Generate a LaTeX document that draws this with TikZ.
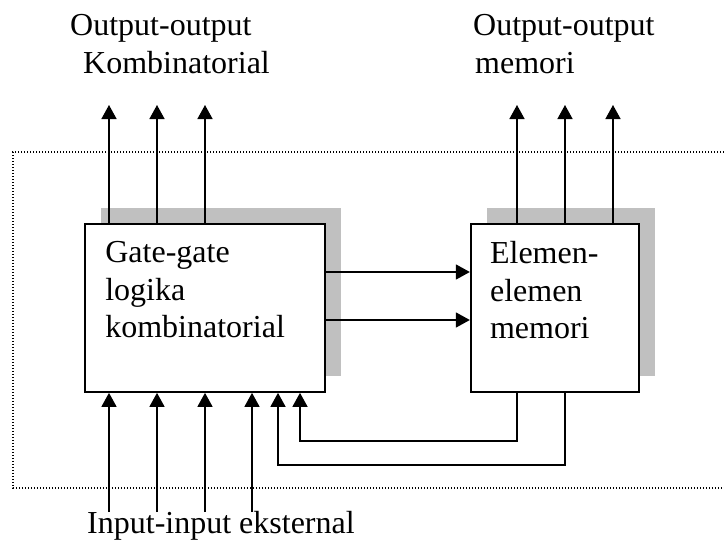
\documentclass[tikz,border=0pt]{standalone}
\usepackage{fontspec}
\setmainfont{Liberation Serif}
\usepackage{tikz}
\usetikzlibrary{arrows.meta,positioning,calc,shadows}
\definecolor{ShadowGray}{RGB}{192,192,192}
\tikzset{
  blok/.style={draw=black,line width=1.7pt,fill=white,inner sep=0pt,
               minimum height=168pt,
               drop shadow={shadow xshift=16pt,shadow yshift=16pt,
                            fill=ShadowGray,opacity=1}},
  isi/.style={anchor=north west,inner sep=0pt,align=left,
              font=\fontsize{32}{37.5}\selectfont},
  lbl/.style={anchor=base west,inner sep=0pt,font=\fontsize{32}{38}\selectfont},
  sig/.style={-{Triangle[length=14pt,width=15pt]},line width=1.5pt},
  batas/.style={line width=1.3pt,dash pattern=on 1.3pt off 1.7pt},
}

\begin{document}
\begin{tikzpicture}[x=1pt,y=-1pt]
  \useasboundingbox (0,0) rectangle (724,539);
  % sistem sekuensial (batas titik-titik)
  \draw[batas] (724,152) -| (13,488) -- (724,488);
  \node[blok,minimum width=240pt] (komb) at (205,308) {};
  \node[blok,minimum width=168pt,right=144pt of komb] (mem) {};
  \node[isi] (kombtxt) at ([shift={(21,18)}]komb.north west) {Gate-gate\\logika\\kombinatorial};
  \node[isi] (memtxt) at ([shift={(20,18)}]mem.north west) {Elemen-\\elemen\\memori};
  % output
  \foreach \x [count=\i] in {109,157,205}{
    \coordinate (ko\i) at (\x,105);
    \draw[sig] (komb.north -| ko\i) -- (ko\i);
  }
  \foreach \x [count=\i] in {517,565,613}{
    \coordinate (mo\i) at (\x,105);
    \draw[sig] (mem.north -| mo\i) -- (mo\i);
  }
  % input eksternal
  \foreach \x [count=\i] in {109,157,205,252}{
    \coordinate (ki\i) at (\x,512);
    \draw[sig] (ki\i) -- (komb.south -| ki\i);
  }
  % komb -> memori
  \foreach \y in {272,320}
    \draw[sig] (komb.east |- 0,\y) -- (mem.west |- 0,\y);
  % umpan balik
  \draw[sig] (mem.south -| 517,0) -- ++(0,48) -| (komb.south -| 300,0);
  \draw[sig] (mem.south -| 565,0) -- ++(0,72) -| (komb.south -| 278,0);
  \node[lbl] (outkomb1) at (70,35) {Output-output};
  \node[lbl] (outkomb2) at (83,73) {Kombinatorial};
  \node[lbl] (outmem1) at (473,35) {Output-output};
  \node[lbl] (outmem2) at (475,73) {memori};
  \node[lbl] (inext) at (87,533) {Input-input eksternal};
\end{tikzpicture}
\end{document}
